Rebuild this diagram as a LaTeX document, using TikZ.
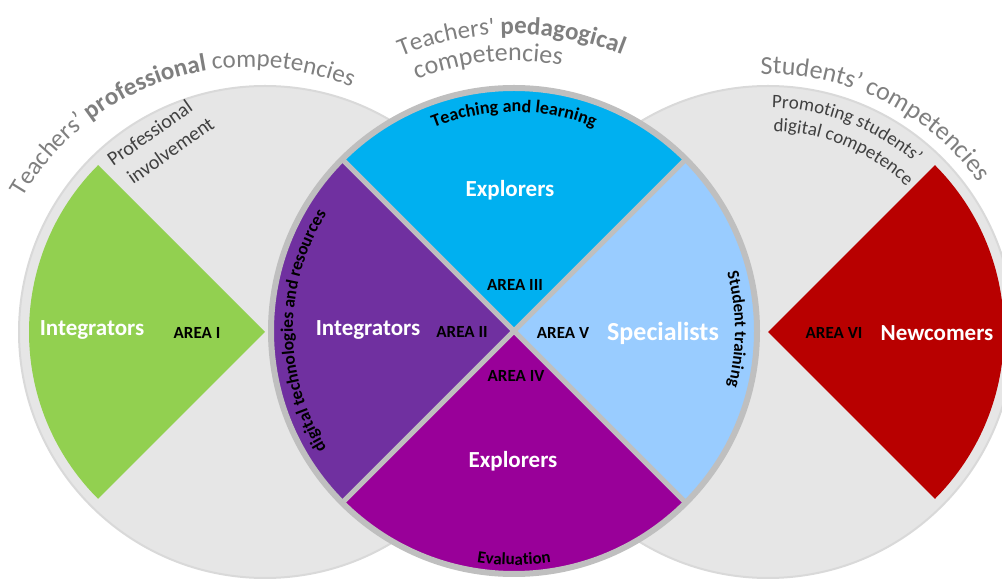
\documentclass[tikz,border=0pt]{standalone}
\usepackage{fontspec}
\setmainfont{Carlito}[Ligatures=TeXOff]
\usetikzlibrary{decorations.text}
\definecolor{greyfill}{HTML}{E6E6E6}
\definecolor{greyrim}{HTML}{D9D9D9}
\definecolor{ringgray}{HTML}{BFBFBF}
\definecolor{areagreen}{HTML}{92D050}
\definecolor{areared}{HTML}{B80000}
\definecolor{areablue}{HTML}{00B0F0}
\definecolor{arealight}{HTML}{99CCFF}
\definecolor{areapurple}{HTML}{7030A0}
\definecolor{areamagenta}{HTML}{990099}
\definecolor{titlegray}{HTML}{7F7F7F}
\definecolor{subgray}{HTML}{404040}
\newcommand{\ttlfmt}{\fontsize{26}{31}\selectfont\color{titlegray}}
\newcommand{\ttlfmtb}{\fontsize{25}{30}\selectfont\color{titlegray}}
\newcommand{\subfmt}{\fontsize{19}{23}\selectfont\color{subgray}}
\begin{document}
\begin{tikzpicture}[x=1pt,y=1pt,
  lab/.style={font=\bfseries\fontsize{23}{26}\selectfont, text=white, inner sep=0pt},
  biglab/.style={font=\bfseries\fontsize{26}{30}\selectfont, text=white, inner sep=0pt},
  area/.style={font=\bfseries\fontsize{17}{20}\selectfont, text=black, inner sep=0pt},
  subtext/.style={font=\fontsize{20}{24}\selectfont, text=subgray, inner sep=0pt, rotate=35, anchor=base west},
  bgcircle/.style={fill=greyfill, draw=greyrim, line width=2pt},
  divider/.style={draw=ringgray, line width=5pt}]
\useasboundingbox (0,0) rectangle (1002,581);
\clip (0,0) rectangle (1002,581);
\coordinate (L) at (265,249);
\coordinate (LT) at (250,251);
\coordinate (M) at (514,250);
\coordinate (R) at (768,249);
% background circles
\path[bgcircle] (L) circle[radius=246];
\path[bgcircle] (R) circle[radius=246];
% outer sectors
\fill[areagreen] (L) -- ([shift={(135:236)}]L) arc[start angle=135, end angle=225, radius=236] -- cycle;
\fill[areared] (R) -- ([shift={(-45:236)}]R) arc[start angle=-45, end angle=45, radius=236] -- cycle;
% middle circle quadrants
\fill[areablue] (M) -- ([shift={(45:243)}]M) arc[start angle=45, end angle=135, radius=243] -- cycle;
\fill[areapurple] (M) -- ([shift={(135:243)}]M) arc[start angle=135, end angle=225, radius=243] -- cycle;
\fill[areamagenta] (M) -- ([shift={(225:243)}]M) arc[start angle=225, end angle=315, radius=243] -- cycle;
\fill[arealight] (M) -- ([shift={(-45:243)}]M) arc[start angle=-45, end angle=45, radius=243] -- cycle;
\draw[divider] ([shift={(45:241)}]M) -- ([shift={(225:241)}]M);
\draw[divider] ([shift={(135:241)}]M) -- ([shift={(-45:241)}]M);
\draw[ringgray, line width=6pt] (M) circle[radius=243];
% titles along arcs
\path[decorate, decoration={text along path, text align=center,
  text={|\ttlfmtb|Teachers’ |\ttlfmtb\bfseries|professional|\ttlfmtb| competencies}}]
  ([shift={(170.5:263)}]LT) arc[start angle=170.5, end angle=46.5, radius=263];
\path[decorate, decoration={text along path, text align=center,
  text={|\ttlfmtb|Teachers' |\ttlfmtb\bfseries|pedagogical}}]
  ([shift={(140.5:297)}]M) arc[start angle=140.5, end angle=40.5, radius=297];
\path[decorate, decoration={text along path, text align=center,
  text={|\ttlfmt|competencies}}]
  ([shift={(135.5:270)}]M) arc[start angle=135.5, end angle=55.5, radius=270];
\path[decorate, decoration={text along path, text align=center,
  text={|\ttlfmt|Students’ competencies}}]
  ([shift={(123.5:258)}]R) arc[start angle=123.5, end angle=3.5, radius=258];
% right sub text
\path[decorate, decoration={text along path,
  text={|\subfmt|Promoting students’}}]
  ([shift={(89:224)}]R) arc[start angle=89, end angle=10, radius=224];
\path[decorate, decoration={text along path,
  text={|\subfmt|digital competence}}]
  ([shift={(88.5:201)}]R) arc[start angle=88.5, end angle=10, radius=201];
% left sub text
\node[subtext] (pi1) at (113,414) {Professional};
\node[subtext] (pi2) at (133,396) {involvement};
% curved labels in middle circle
\path[decorate, decoration={text along path, text align=center,
  text={|\bfseries\fontsize{18}{21}\selectfont|Teaching and learning}}]
  ([shift={(150:219)}]M) arc[start angle=150, end angle=30, radius=219];
\path[decorate, decoration={text along path, text align=center,
  text={|\bfseries\fontsize{17.5}{21}\selectfont|digital technologies and resources}}]
  ([shift={(240:221)}]M) arc[start angle=240, end angle=120, radius=221];
\path[decorate, decoration={text along path, text align=center,
  text={|\bfseries\fontsize{17}{20}\selectfont|Student training}}]
  ([shift={(60.5:221)}]M) arc[start angle=60.5, end angle=-59.5, radius=221];
\path[decorate, decoration={text along path, text align=center,
  text={|\bfseries\fontsize{17}{20}\selectfont|Evaluation}}]
  ([shift={(220:234)}]M) arc[start angle=220, end angle=320, radius=234];
% labels
\node[lab] (int1) at (92,251) {Integrators};
\node[area] (a1) at (197,248) {AREA I};
\node[lab] (exp1) at (510,391) {Explorers};
\node[area] (a3) at (515,296) {AREA III};
\node[lab] (int2) at (368,251) {Integrators};
\node[area] (a2) at (462,249) {AREA II};
\node[area] (a5) at (563,248) {AREA V};
\node[biglab] (spec) at (663,248) {Specialists};
\node[area] (a4) at (516,205) {AREA IV};
\node[lab] (exp2) at (513,120) {Explorers};
\node[area] (a6) at (834,248) {AREA VI};
\node[lab] (newc) at (937,248) {Newcomers};
\end{tikzpicture}
\end{document}
